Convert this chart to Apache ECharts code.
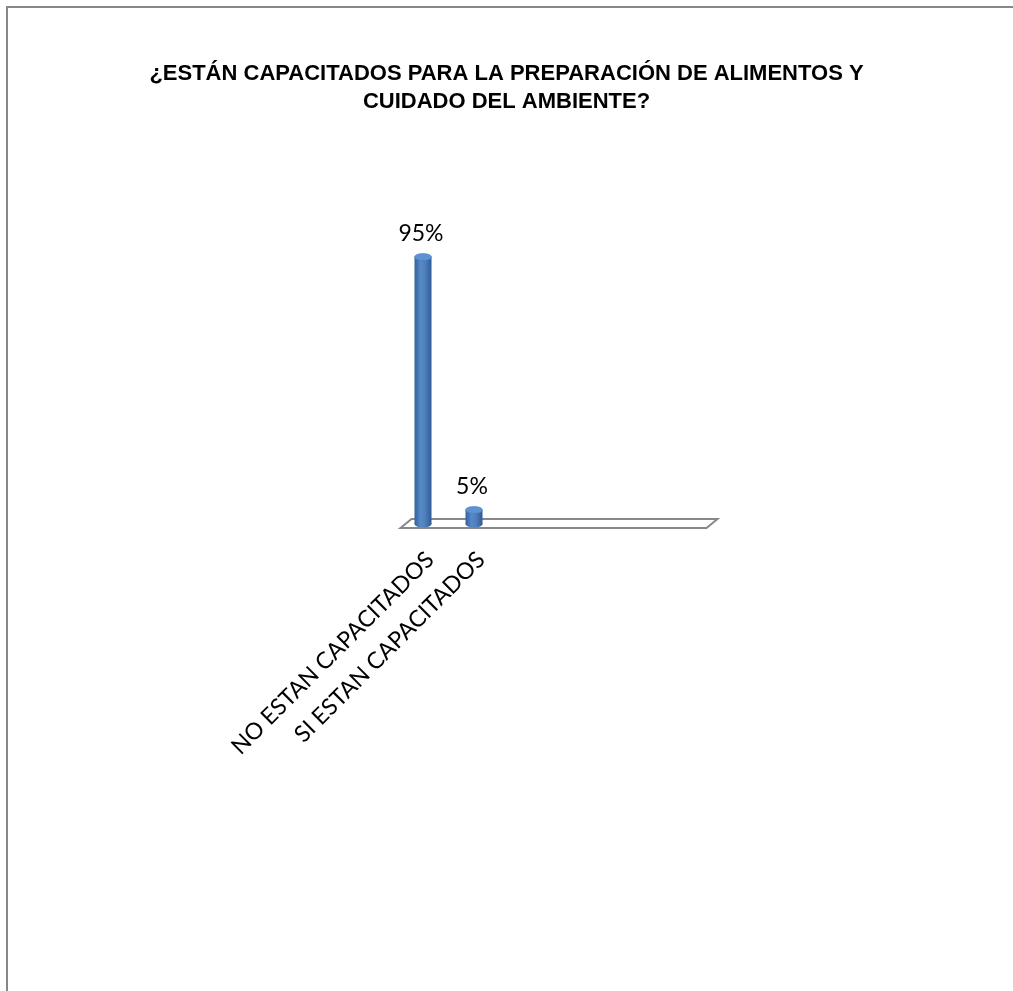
<!DOCTYPE html>
<html>
<head>
<meta charset="utf-8">
<script src="https://cdn.jsdelivr.net/npm/echarts@6/dist/echarts.min.js"></script>
<style>
	html, body { margin: 0; padding: 0; background: #fff; }
	#chart { width: 1013px; height: 991px; }
</style>
</head>
<body>
<div id="chart"></div>
<script>
// datos de la encuesta
var categories = ['NO ESTAN CAPACITADOS', 'SI ESTAN CAPACITADOS'];
var percents = [95, 5];
var titleText = '¿ESTÁN CAPACITADOS PARA LA PREPARACIÓN DE ALIMENTOS Y\nCUIDADO DEL AMBIENTE?';

var chart = echarts.init(document.getElementById('chart'));

function renderCylinder(params, api) {
	var base = api.coord([api.value(0), 0]);
	var top = api.coord([api.value(0), api.value(1)]);
	var cx = base[0] - 7;
	var w = 17, rx = w / 2, ry = 3.5;
	var body = new echarts.graphic.LinearGradient(0, 0, 1, 0, [
		{ offset: 0, color: '#32619c' },
		{ offset: 0.35, color: '#5789c8' },
		{ offset: 0.6, color: '#4f81bf' },
		{ offset: 1, color: '#2f5b95' }
	]);
	return {
		type: 'group',
		children: [
			{ type: 'ellipse', shape: { cx: cx, cy: base[1], rx: rx, ry: ry }, style: { fill: body } },
			{ type: 'rect', shape: { x: cx - rx, y: top[1], width: w, height: base[1] - top[1] }, style: { fill: body } },
			{ type: 'ellipse', shape: { cx: cx, cy: top[1], rx: rx, ry: ry }, style: { fill: '#5e92d2', stroke: '#4677b4', lineWidth: 0.5 } },
			{ type: 'text', style: {
				text: api.value(1) + '%', x: cx - 2, y: top[1] - 12,
				align: 'center', verticalAlign: 'bottom',
				fontFamily: 'Lato', fontSize: 23, fill: '#000'
			} }
		]
	};
}

function renderFloor(params, api) {
	var cs = params.coordSys;
	var y0 = cs.y + cs.height;
	var fl = cs.x - 4, fr = cs.x + cs.width - 4;
	return {
		type: 'polygon',
		shape: { points: [[fl, y0 + 4], [fr, y0 + 4], [fr + 11, y0 - 5], [fl + 11, y0 - 5]] },
		style: { fill: '#fff', stroke: '#888888', lineWidth: 2 },
		z2: 0
	};
}

var option = {
	animation: false,
	title: {
		text: titleText,
		left: 'center',
		top: 55,
		textStyle: {
			fontFamily: "'Liberation Sans', Arial, sans-serif",
			fontWeight: 'bold',
			fontSize: 22,
			lineHeight: 28,
			color: '#000'
		}
	},
	graphic: [{
		type: 'rect',
		shape: { x: 7, y: 7, width: 1100, height: 1100 },
		style: { fill: 'none', stroke: '#878787', lineWidth: 2 }
	}],
	grid: { left: 404.5, top: 243, width: 306, height: 281 },
	xAxis: {
		type: 'category',
		data: categories,
		max: 5,
		axisLine: { show: false },
		axisTick: { show: false },
		axisLabel: {
			interval: 0,
			rotate: 45,
			margin: 32,
			fontFamily: 'Lato',
			fontSize: 23,
			color: '#000',
			formatter: function (v) { return v || ''; }
		}
	},
	yAxis: {
		type: 'value',
		min: 0,
		max: 100,
		show: false
	},
	series: [{
		type: 'custom',
		renderItem: renderFloor,
		data: [[0]],
		silent: true,
		z: 1
	}, {
		type: 'custom',
		renderItem: renderCylinder,
		encode: { x: 0, y: 1 },
		data: categories.map(function (c, i) { return [i, percents[i]]; }),
		z: 2
	}]
};

chart.setOption(option);
</script>
</body>
</html>
